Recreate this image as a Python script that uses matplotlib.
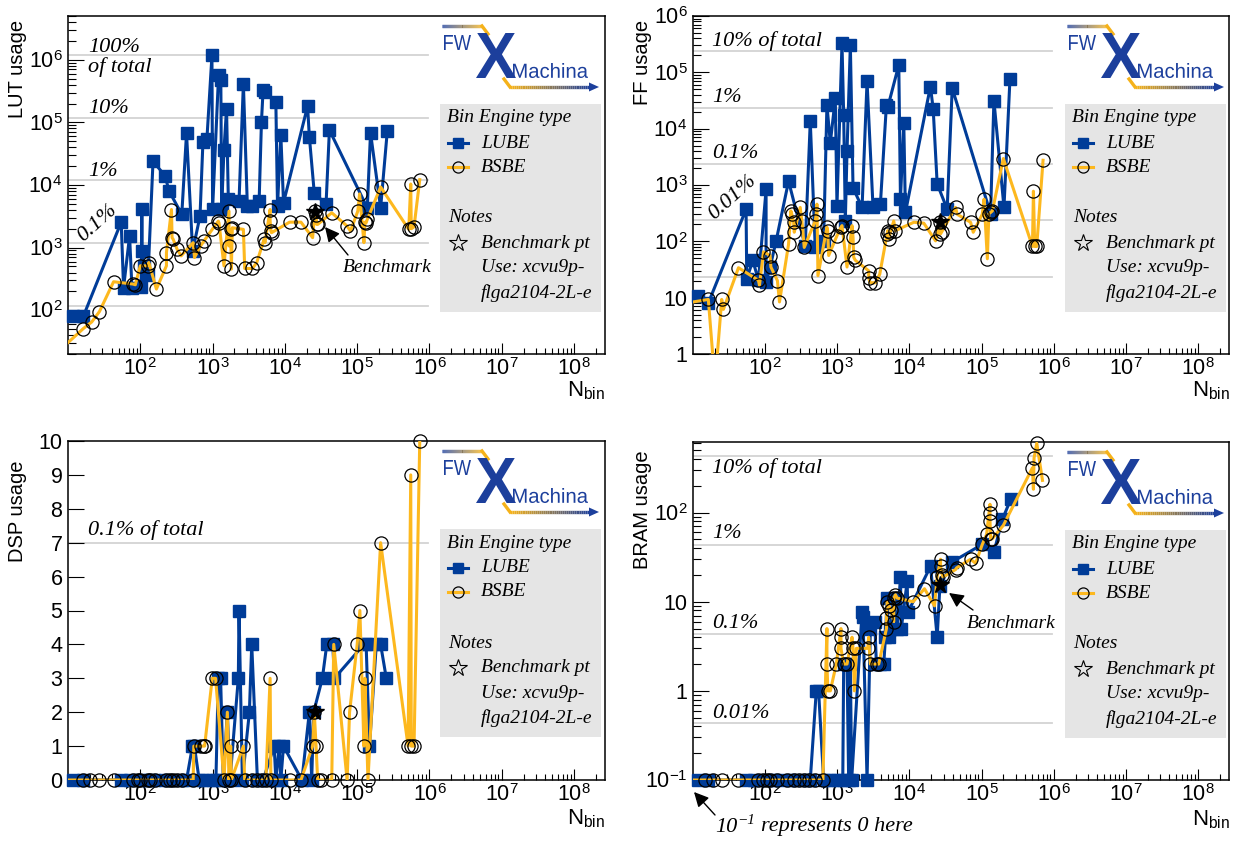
import numpy as np
import matplotlib
matplotlib.use("Agg")
import matplotlib.pyplot as plt
from matplotlib.transforms import Affine2D
from matplotlib.textpath import TextPath
from matplotlib.font_manager import FontProperties
from matplotlib.patches import PathPatch, Rectangle, Polygon
from matplotlib.collections import LineCollection
from matplotlib.colors import to_rgb
from matplotlib.ticker import FixedLocator, LogLocator, NullFormatter, FuncFormatter, MultipleLocator, NullLocator

plt.rcParams['font.family'] = ['Liberation Sans', 'DejaVu Sans']
plt.rcParams['mathtext.fontset'] = 'custom'
plt.rcParams['mathtext.rm'] = 'Liberation Sans'
plt.rcParams['mathtext.it'] = 'Liberation Serif:italic'
plt.rcParams['mathtext.bf'] = 'Liberation Sans:bold'

LUBE_COLOR = '#003c98'
BSBE_COLOR = '#fdb81e'
LOGO_BLUE = '#1c3f9c'
LOGO_ORANGE = '#f5b21a'
GRID_GREY = '#d3d3d3'
SERIF = 'Liberation Serif'

# ---------------- data ----------------
# LUT usage
nbin_lut_lube = [11.9, 16.3, 54.4, 58.7, 71.1, 76.6, 103, 105, 106, 111, 128, 150, 220, 250, 375,
                 436, 530, 670, 735, 835, 980, 1000, 1210, 1300, 1334, 1437, 1560, 1651, 2321, 2667,
                 3027, 3555, 4403, 4744, 5000, 5300, 7500, 7908, 8795, 9573, 20600, 21800, 25500,
                 37100, 41300, 138000, 153000, 211000, 261000]
lut_lube = [80, 80, 2550, 229, 1530, 229, 235, 4100, 870, 512, 364, 24000, 14000, 8000, 3400,
            67000, 880, 3190, 48000, 55000, 1170000, 4100, 570000, 475000, 4100, 36500, 165000, 5900,
            5500, 416000, 4600, 4600, 5500, 102600, 334000, 307000, 213000, 4600, 63000, 5200,
            181500, 59200, 7460, 4900, 75500, 4300, 68500, 4300, 72700]
nbin_lut_bsbe = [8, 16.3, 21.3, 27.2, 42.7, 79.1, 85.3, 100, 126, 131, 167, 230, 230, 270, 275, 285,
                 323, 367, 539, 562, 681, 760, 989, 1200, 1225, 1437, 1687, 1687, 1778, 1817, 1876,
                 2667, 2782, 3555, 4084, 5164, 5300, 6252, 6252, 6400, 6531, 11600, 16700, 24200,
                 26000, 27000, 27600, 28400, 44500, 72600, 80800, 102000, 108000, 124000, 128000,
                 133000, 138000, 211000, 517000, 551000, 560000, 612000, 734000]
lut_bsbe = [24, 51, 65, 95, 285, 262, 255, 512, 512, 578, 218, 512, 834, 4060, 1443, 1357, 942, 738,
            1200, 694, 1062, 1276, 1955, 2650, 2493, 512, 3820, 1062, 1955, 453, 2075, 1955, 464, 464,
            578, 1357, 1200, 4060, 2650, 1840, 1730, 2550, 2550, 1443, 3900, 3260, 2345, 2345, 3600,
            2210, 1840, 3820, 7200, 1200, 2550, 2493, 2820, 9290, 1955, 10370, 2000, 2150, 12160]

# FF usage
nbin_ff_lube = [11.9, 16.3, 54.4, 55.6, 67.5, 80.7, 103, 103, 117, 142, 211, 359, 422, 494, 646,
                718, 800, 937, 989, 1161, 1225, 1291, 1363, 1516, 1651, 2203, 2582, 3126, 3955, 4790,
                5000, 7110, 7500, 8340, 8790, 19500, 21300, 24200, 33300, 39100, 133000, 148000,
                204000, 247000]
ff_lube = [10.5, 8, 372, 21.6, 45.7, 20.3, 832, 19, 34.7, 102, 1170, 83, 13500, 78, 102, 26300,
           5600, 34500, 427, 326000, 17600, 230, 4000, 305000, 890, 400, 69000, 400, 460, 26300,
           24000, 135000, 560, 12600, 325, 56000, 22600, 1050, 372, 52500, 310, 31600, 400, 77000]
nbin_ff_bsbe = [8, 16.3, 20.2, 25, 26.4, 42.7, 80.7, 83.4, 94.8, 117, 120, 148, 158, 211, 227, 234,
                248, 253, 306, 323, 348, 494, 510, 522, 539, 718, 734, 759, 989, 1124, 1161, 1363,
                1600, 1651, 1687, 1778, 2720, 2720, 2870, 3370, 3870, 4900, 5000, 5160, 5450, 6050,
                6380, 11500, 15800, 23000, 26400, 26900, 27800, 43500, 45900, 70300, 76500, 102000,
                108000, 120000, 126000, 133000, 141000, 200000, 506000, 522000, 544000, 580000, 710000]
ff_bsbe = [8, 9.3, 0.3, 9.3, 6.2, 34, 20.3, 16.6, 65, 56, 35, 20, 8.4, 89, 347, 302, 218, 145, 400,
           230, 78, 230, 302, 457, 24.6, 178, 155, 56, 126, 178, 190, 35, 190, 118, 52, 46, 30, 22,
           18.4, 18.4, 26, 135, 155, 110, 145, 230, 155, 218, 210, 102, 218, 135, 145, 400, 302, 218,
           145, 302, 560, 49, 310, 325, 347, 2950, 81, 776, 81, 81, 2750]

# DSP usage
nbin_dsp_lube = [11.9, 16.3, 54.4, 71.1, 103, 131, 153, 222, 248, 379, 436, 527, 560, 653, 741, 989,
                 1112, 1199, 1291, 1406, 1599, 1741, 2270, 2321, 2582, 3228, 3480, 4170, 5000, 7110,
                 7500, 8340, 8790, 9570, 17200, 21800, 23500, 25000, 33000, 38000, 46000, 48400,
                 124000, 133000, 148000, 184000, 211000, 253000]
dsp_lube = [0, 0, 0, 0, 0, 0, 0, 0, 0, 0, 0, 1, 1, 0, 0, 0, 0, 3, 3, 0, 2, 0, 3, 5, 0, 2, 4, 0, 0, 1,
            0, 1, 0, 1, 0, 2, 0, 2, 3, 4, 4, 3, 4, 4, 1, 4, 4, 3]
nbin_dsp_bsbe = [8, 16.3, 20.2, 27.2, 42.7, 79.1, 91.7, 100, 126, 137, 161, 230, 260, 285, 323, 379,
                 539, 550, 681, 760, 776, 989, 1100, 1437, 1600, 1687, 1778, 1817, 2667, 2782, 3555,
                 4170, 4900, 5450, 6250, 6400, 11600, 16700, 24200, 25500, 27000, 28400, 31500, 44500,
                 47400, 72600, 78500, 100000, 109000, 124000, 128000, 141000, 211000, 506000, 551000,
                 560000, 612000, 734000]
dsp_bsbe = [0, 0, 0, 0, 0, 0, 0, 0, 0, 0, 0, 0, 0, 0, 0, 0, 0, 1, 1, 1, 1, 3, 3, 0, 2, 0, 1, 0, 1, 0,
            0, 0, 0, 0, 3, 0, 0, 0, 1, 2, 1, 0, 0, 0, 4, 0, 2, 4, 5, 1, 3, 0, 7, 1, 9, 1, 1, 10]

# BRAM usage (0 is drawn at 1e-1)
nbin_bram_lube = [11.9, 16.3, 54.4, 71.1, 103, 131, 153, 222, 248, 379, 422, 511, 550, 646, 800, 1000,
                  1190, 1225, 1363, 1436, 1516, 1580, 2203, 2270, 2582, 2871, 3300, 3480, 3955, 4400,
                  4650, 4900, 5160, 5450, 6050, 6740, 7500, 7700, 9290, 9500, 19600, 24200, 26400,
                  39100, 102000, 148000, 194000, 253000]
bram_lube = [0, 0, 0, 0, 0, 0, 0, 0, 0, 0, 0, 1, 1, 0, 0, 0, 0, 2, 2, 0, 2, 0, 7.6, 6.7, 0, 5, 6, 2, 2,
             2, 4, 11, 4, 5, 11, 5, 19, 5, 17, 7.6, 25, 4, 15, 28, 44, 36, 84, 141]
nbin_bram_bsbe = [8, 14.7, 19.1, 25, 42.7, 80.7, 94.8, 105, 117, 145, 200, 248, 291, 341, 400, 494,
                  631, 718, 718, 740, 800, 968, 1124, 1124, 1124, 1225, 1363, 1600, 1651, 1722, 1836,
                  2636, 2722, 2871, 3556, 3750, 4795, 4795, 4900, 5160, 5560, 6050, 6050, 6390, 6740,
                  11250, 16150, 22230, 24200, 26960, 26960, 28440, 29380, 43560, 44970, 70310, 82600,
                  102100, 117200, 130600, 130600, 130600, 133400, 140600, 200000, 505600, 522000,
                  533000, 581000, 697000]
bram_bsbe = [0, 0, 0, 0, 0, 0, 0, 0, 0, 0, 0, 0, 0, 0, 0, 0, 0, 5, 2, 1, 1, 2, 5, 4, 3, 2, 2, 4, 3, 1,
             3, 3, 4, 2, 2, 2, 5, 6.5, 10, 9, 8, 6, 11, 12, 11, 10, 14, 9, 19, 30, 25, 20, 19, 23, 24,
             30, 27, 44, 57, 124, 98, 81, 50, 51, 72, 318, 183, 411, 600, 230]

# benchmark point
bench_nbin = 26200
bench = {'lut': 3700, 'ff': 220, 'dsp': 2, 'bram': 15.5}

# device totals for the reference lines
lut_total, lut_fracs = 1182240, [1, 0.1, 0.01, 0.001, 0.0001]
ff_total, ff_fracs = 2364480, [0.1, 0.01, 0.001, 0.0001, 0.00001]
dsp_total, dsp_fracs = 7000, [0.001]
bram_total, bram_fracs = 4320, [0.1, 0.01, 0.001, 0.0001]

# ---------------- layout ----------------
W, H = 1234, 842
PANELS = {'lut': (68, 16, 605, 354), 'ff': (693, 16, 1229, 354),
          'dsp': (68, 441, 605, 780), 'bram': (693, 442, 1229, 780)}

fig = plt.figure(figsize=(W / 100, H / 100), dpi=100)


def make_axes(key):
    l, t, r, b = PANELS[key]
    ax = fig.add_axes([l / W, 1 - b / H, (r - l) / W, (b - t) / H])
    rel = Affine2D().scale(1 / (r - l), -1 / (b - t)).translate(0, 1) + ax.transAxes
    for s in ax.spines.values():
        s.set_linewidth(1.1)
    return ax, rel


def pow_label(v, pos=None):
    e = int(round(np.log10(v)))
    if e == 0:
        return '1'
    if e == 1:
        return '10'
    return r'$10^{%d}$' % e


def setup_x(ax):
    ax.set_xscale('log')
    ax.set_xlim(10, 2.68e8)
    ax.xaxis.set_major_locator(FixedLocator([10.0 ** k for k in range(2, 9)]))
    ax.xaxis.set_minor_locator(LogLocator(base=10, subs=np.arange(2, 10), numticks=60))
    ax.xaxis.set_major_formatter(FuncFormatter(pow_label))
    ax.xaxis.set_minor_formatter(NullFormatter())
    ax.tick_params(axis='x', which='major', direction='in', length=8, width=0.8, pad=3, labelsize=15.5)
    ax.tick_params(axis='x', which='minor', direction='in', length=4, width=0.8)


def setup_logy(ax, lo, hi, majors):
    ax.set_yscale('log')
    ax.set_ylim(lo, hi)
    ax.yaxis.set_major_locator(FixedLocator(majors))
    ax.yaxis.set_minor_locator(LogLocator(base=10, subs=np.arange(2, 10), numticks=60))
    ax.yaxis.set_major_formatter(FuncFormatter(pow_label))
    ax.yaxis.set_minor_formatter(NullFormatter())
    ax.tick_params(axis='y', which='major', direction='in', length=11.5, width=0.8, pad=4, labelsize=15.5)
    ax.tick_params(axis='y', which='minor', direction='in', length=5.8, width=0.8)


def as_arrays(x, y, floor=None):
    x = np.asarray(x, float)
    y = np.asarray(y, float)
    if floor is not None:
        y = np.where(y <= 0, floor, y)
    return x, y


def plot_engines(ax, xl, yl, xb, yb, bkey, floor=None):
    xlo, xhi = ax.get_xlim()
    ylo, yhi = ax.get_ylim()
    for (x, y), kind in (((xl, yl), 'lube'), ((xb, yb), 'bsbe')):
        x, y = as_arrays(x, y, floor)
        ok = (x >= xlo) & (x <= xhi) & (y >= ylo) & (y <= yhi * 1.001)
        if kind == 'lube':
            ax.plot(x, y, color=LUBE_COLOR, lw=2.2, zorder=3)
            ax.plot(x[ok], y[ok], ls='none', marker='s', ms=8, mfc=LUBE_COLOR, mec=LUBE_COLOR,
                    zorder=3.1, clip_on=False)
        else:
            ax.plot(x, y, color=BSBE_COLOR, lw=2.2, zorder=3.2)
            ax.plot(x[ok], y[ok], ls='none', marker='o', ms=9.5, mfc='none', mec='black', mew=0.9,
                    zorder=3.3, clip_on=False)
    ax.plot([bench_nbin], [bench[bkey]], ls='none', marker='*', ms=13, mfc='black', mec='black',
            zorder=4, clip_on=False)


def ref_lines(ax, total, fracs):
    for f in fracs:
        ax.axhline(total * f, xmin=0, xmax=0.67, color=GRID_GREY, lw=1.3, zorder=1)


def pct_label(ax, rel, s, x, y, rot=0):
    ax.text(x, y, s, transform=rel, fontfamily=SERIF, style='italic', fontsize=16,
            ha='left' if rot == 0 else 'center', va='center', rotation=rot,
            rotation_mode='anchor', zorder=2)


def fit_text(ax, rel, s, box, color, weight='normal'):
    x0, y0, x1, y1 = box
    tp = TextPath((0, 0), s, size=10, prop=FontProperties(family='Liberation Sans', weight=weight))
    bb = tp.get_extents()
    tr = (Affine2D().translate(-bb.x0, -bb.y0)
          .scale((x1 - x0) / bb.width, -(y1 - y0) / bb.height)
          .translate(x0, y1))
    ax.add_patch(PathPatch(tp, transform=tr + rel, fc=color, ec='none', clip_on=False, zorder=6))


def grad_line(ax, rel, pts, c0, c1, lw):
    pts = np.asarray(pts, float)
    ts = np.linspace(0, 1, 40)
    xs = np.interp(ts, np.linspace(0, 1, len(pts)), pts[:, 0])
    ys = np.interp(ts, np.linspace(0, 1, len(pts)), pts[:, 1])
    segs = [[(xs[i], ys[i]), (xs[i + 1], ys[i + 1])] for i in range(len(xs) - 1)]
    a, b = np.array(to_rgb(c0)), np.array(to_rgb(c1))
    cols = [tuple(a + (b - a) * t) for t in np.linspace(0, 1, len(segs))]
    ax.add_collection(LineCollection(segs, colors=cols, linewidths=lw, transform=rel,
                                     clip_on=False, zorder=6, capstyle='butt'), autolim=False)


def draw_logo(ax, rel):
    grad_line(ax, rel, [(374, 10), (414, 10)], LOGO_BLUE, LOGO_ORANGE, 2.4)
    ax.plot([414, 420], [10, 18], transform=rel, color=LOGO_ORANGE, lw=2.4, clip_on=False, zorder=6)
    fit_text(ax, rel, 'FW', (376, 19, 403, 34), LOGO_BLUE)
    fit_text(ax, rel, 'X', (408, 17, 448, 62), LOGO_BLUE, weight='bold')
    fit_text(ax, rel, 'Machina', (445, 47, 520, 62), LOGO_BLUE)
    ax.plot([436, 442], [63, 71], transform=rel, color=LOGO_ORANGE, lw=2.4, clip_on=False, zorder=6)
    grad_line(ax, rel, [(442, 71), (523, 71)], LOGO_ORANGE, LOGO_BLUE, 2.4)
    ax.add_patch(Polygon([(531, 71), (521, 66.5), (521, 75.5)], closed=True, transform=rel,
                         fc=LOGO_BLUE, ec='none', clip_on=False, zorder=6))


def draw_legend(ax, rel):
    ax.add_patch(Rectangle((372, 88), 161, 208, transform=rel, fc='#e5e5e5', ec='none',
                           zorder=5, clip_on=False))
    kw = dict(transform=rel, fontfamily=SERIF, style='italic', fontsize=14, va='center', zorder=7)
    ax.text(379, 102, 'Bin Engine type', ha='left', **kw)
    ax.plot([380, 400], [127, 127], transform=rel, color=LUBE_COLOR, lw=2.2, clip_on=False, zorder=7)
    ax.plot([390], [127], transform=rel, marker='s', ms=7, color=LUBE_COLOR, clip_on=False, zorder=7)
    ax.text(413, 127, 'LUBE', ha='left', **kw)
    ax.plot([380, 400], [151, 151], transform=rel, color=BSBE_COLOR, lw=2.2, clip_on=False, zorder=7)
    ax.plot([390], [151], transform=rel, marker='o', ms=8, mfc='none', mec='black', mew=0.9,
            clip_on=False, zorder=7)
    ax.text(413, 151, 'BSBE', ha='left', **kw)
    ax.text(380, 202, 'Notes', ha='left', **kw)
    ax.plot([390], [227], transform=rel, marker='*', ms=13, mfc='none', mec='black', mew=0.8,
            clip_on=False, zorder=7)
    ax.text(413, 227, 'Benchmark pt', ha='left', **kw)
    ax.text(413, 252, 'Use: xcvu9p-', ha='left', **kw)
    ax.text(413, 277, 'flga2104-2L-e', ha='left', **kw)


def titles(ax, rel, ylabel, ytop, nbin_y):
    ax.text(-50, ytop, ylabel, transform=rel, rotation=90, ha='center', va='top', fontsize=14.5)
    ax.text(537, nbin_y, r'N$_{\rm bin}$', transform=rel, ha='right', va='center', fontsize=16)


def benchmark_arrow(ax, rel, tip, tail, txt_xy):
    ax.annotate('', xy=tip, xytext=tail, xycoords=rel, textcoords=rel,
                arrowprops=dict(arrowstyle='-|>', color='black', lw=1.0, mutation_scale=22,
                                shrinkA=0, shrinkB=0), zorder=6, annotation_clip=False)
    ax.text(txt_xy[0], txt_xy[1], 'Benchmark', transform=rel, fontfamily=SERIF, style='italic',
            fontsize=14, ha='left', va='center', zorder=6)


# ---------------- LUT ----------------
ax, rel = make_axes('lut')
setup_x(ax)
setup_logy(ax, 20, 5e6, [10.0 ** k for k in range(2, 7)])
ref_lines(ax, lut_total, lut_fracs)
plot_engines(ax, nbin_lut_lube, lut_lube, nbin_lut_bsbe, lut_bsbe, 'lut')
pct_label(ax, rel, '100%', 20, 32)
pct_label(ax, rel, 'of total', 20, 51)
pct_label(ax, rel, '10%', 20, 92.5)
pct_label(ax, rel, '1%', 20, 155.5)
pct_label(ax, rel, '0.1%', 29, 207, rot=42)
benchmark_arrow(ax, rel, (257, 211), (280, 239), (275, 252))
draw_logo(ax, rel)
draw_legend(ax, rel)
titles(ax, rel, 'LUT usage', 4, 374)

# ---------------- FF ----------------
ax, rel = make_axes('ff')
setup_x(ax)
setup_logy(ax, 1, 1e6, [10.0 ** k for k in range(0, 7)])
ref_lines(ax, ff_total, ff_fracs)
plot_engines(ax, nbin_ff_lube, ff_lube, nbin_ff_bsbe, ff_bsbe, 'ff')
pct_label(ax, rel, '10% of total', 19, 25)
pct_label(ax, rel, '1%', 19, 81)
pct_label(ax, rel, '0.1%', 19, 138)
pct_label(ax, rel, '0.01%', 39, 181, rot=42)
draw_logo(ax, rel)
draw_legend(ax, rel)
titles(ax, rel, 'FF usage', 4, 374)

# ---------------- DSP ----------------
ax, rel = make_axes('dsp')
setup_x(ax)
ax.set_ylim(0, 10)
ax.yaxis.set_major_locator(MultipleLocator(1))
ax.yaxis.set_minor_locator(NullLocator())
ax.tick_params(axis='y', which='major', direction='in', length=11.5, width=0.8, pad=4, labelsize=15.5)
ref_lines(ax, dsp_total, dsp_fracs)
plot_engines(ax, nbin_dsp_lube, dsp_lube, nbin_dsp_bsbe, dsp_bsbe, 'dsp')
pct_label(ax, rel, '0.1% of total', 20, 89)
draw_logo(ax, rel)
draw_legend(ax, rel)
titles(ax, rel, 'DSP usage', 19, 377)

# ---------------- BRAM ----------------
ax, rel = make_axes('bram')
setup_x(ax)
setup_logy(ax, 0.1, 620, [0.1, 1, 10, 100])
ref_lines(ax, bram_total, bram_fracs)
plot_engines(ax, nbin_bram_lube, bram_lube, nbin_bram_bsbe, bram_bsbe, 'bram', floor=0.1)
pct_label(ax, rel, '10% of total', 19, 26)
pct_label(ax, rel, '1%', 19, 92)
pct_label(ax, rel, '0.1%', 19, 182)
pct_label(ax, rel, '0.01%', 19, 271)
benchmark_arrow(ax, rel, (256, 151), (280, 168), (274, 181))
ax.annotate('', xy=(1, 350), xytext=(22, 373), xycoords=rel, textcoords=rel,
            arrowprops=dict(arrowstyle='-|>', color='black', lw=1.0, mutation_scale=22,
                            shrinkA=0, shrinkB=0), annotation_clip=False)
note_kw = dict(fontfamily=SERIF, style='italic', va='center', ha='left', annotation_clip=False)
t_ten = ax.text(22, 385, '10', transform=rel, fontfamily=SERIF, style='italic', fontsize=16,
                va='center', ha='left')
t_exp = ax.annotate('\u22121', xy=(1.0, 0.85), xycoords=t_ten, fontsize=11, **note_kw)
ax.annotate('represents 0 here', xy=(1.0, 0.5), xycoords=(t_exp, t_ten), xytext=(4, 0),
            textcoords='offset points', fontsize=16, **note_kw)
draw_logo(ax, rel)
draw_legend(ax, rel)
titles(ax, rel, 'BRAM usage', 8, 377)

fig.savefig('out.png', dpi=100)
